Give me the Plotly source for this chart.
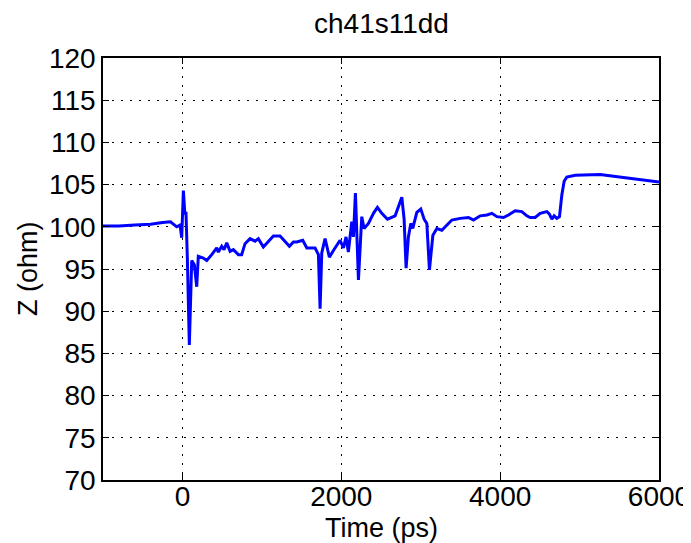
import plotly.graph_objects as go

time_ps = [-1000, -800, -600, -400, -250, -150, -72, -30, -9, 12, 30, 45, 62, 87, 117, 150, 180, 200,
           263, 306, 369, 432, 452, 495, 524, 558, 600, 641, 704, 746, 788, 851, 914, 956, 1019,
           1082, 1145, 1229, 1292, 1347, 1397, 1440, 1515, 1566, 1670, 1712, 1733, 1754, 1796, 1850,
           1901, 1985, 2027, 2060, 2089, 2132, 2153, 2178, 2216, 2258, 2287, 2342, 2405, 2455, 2510,
           2581, 2678, 2762, 2791, 2816, 2845, 2875, 2900, 2951, 3001, 3043, 3077, 3110, 3153, 3203,
           3266, 3308, 3392, 3497, 3602, 3665, 3749, 3833, 3896, 3959, 4042, 4105, 4189, 4273, 4336,
           4378, 4441, 4504, 4588, 4621, 4651, 4680, 4714, 4747, 4777, 4806, 4840, 4945, 5134, 5260,
           5428, 5596, 5764, 5974, 6000]
z_ohm = [100.1, 100.1, 100.2, 100.3, 100.5, 100.6, 100.0, 100.2, 98.7, 104.3, 101.6, 101.6, 96.3, 86.0, 96.0,
         95.5, 92.9, 96.5, 96.3, 96.0, 96.7, 97.5, 97.0, 97.7, 97.3, 98.1, 97.1, 97.3, 96.7, 96.7,
         98.0, 98.6, 98.3, 98.6, 97.6, 98.2, 98.9, 98.9, 98.3, 97.7, 98.2, 98.2, 98.4, 97.5, 97.5,
         96.7, 90.3, 96.9, 98.6, 96.4, 97.2, 98.4, 97.5, 98.8, 97.0, 100.6, 98.8, 104.0, 93.7, 101.2,
         99.8, 100.4, 101.6, 102.3, 101.6, 100.9, 101.3, 103.5, 100.9, 95.1, 98.8, 100.4, 99.8, 101.7,
         102.1, 100.9, 100.4, 94.9, 99.0, 99.8, 99.6, 100.0, 100.8, 101.0, 101.1, 100.8, 101.3, 101.4,
         101.6, 101.2, 101.1, 101.4, 101.9, 101.8, 101.3, 101.1, 101.1, 101.6, 101.8, 101.5, 100.9,
         101.3, 101.0, 101.2, 103.8, 105.4, 105.9, 106.1, 106.2, 106.2, 106.0, 105.8, 105.6, 105.3, 105.3]

x_ticks = [0, 2000, 4000, 6000]
y_ticks = [70, 75, 80, 85, 90, 95, 100, 105, 110, 115, 120]

font_family = "Liberation Sans, Arial, sans-serif"

fig = go.Figure()
fig.add_trace(go.Scatter(x=time_ps, y=z_ohm, mode="lines",
                         line=dict(color="#0000FF", width=3), showlegend=False))

axis_common = dict(showline=True, linecolor="black", linewidth=1.5, mirror="ticks",
                   ticks="inside", ticklen=6, tickcolor="black", tickwidth=1.2,
                   showgrid=True, gridcolor="black", griddash="2px,7px", gridwidth=1,
                   zeroline=False, automargin=False,
                   tickfont=dict(family=font_family, size=28, color="black"))

# the page body adds an 8px offset, so the figure is 8px smaller and margins shifted
fig.update_layout(
    width=683, height=535,
    paper_bgcolor="white", plot_bgcolor="white",
    margin=dict(l=95, r=32, t=50, b=63),
    xaxis=dict(range=[-1000, 6000], tickvals=x_ticks, ticktext=[str(v) for v in x_ticks],
               ticklabelstandoff=-9, **axis_common),
    yaxis=dict(range=[70, 120], tickvals=y_ticks, ticktext=[str(v) for v in y_ticks],
               **axis_common),
    annotations=[
        dict(text="ch41s11dd", xref="paper", yref="paper", x=0.5, y=(480 - 24) / 422,
             xanchor="center", yanchor="middle", showarrow=False,
             font=dict(family=font_family, size=28, color="black")),
        dict(text="Time (ps)", xref="paper", yref="paper", x=0.5, y=-(528 - 480) / 422,
             xanchor="center", yanchor="middle", showarrow=False,
             font=dict(family=font_family, size=27, color="black")),
        dict(text="Z (ohm)", xref="paper", yref="paper", x=(28 - 103) / 556, y=0.5,
             xanchor="center", yanchor="middle", textangle=-90, showarrow=False,
             font=dict(family=font_family, size=27, color="black")),
    ],
)

fig.write_html("out.html")
